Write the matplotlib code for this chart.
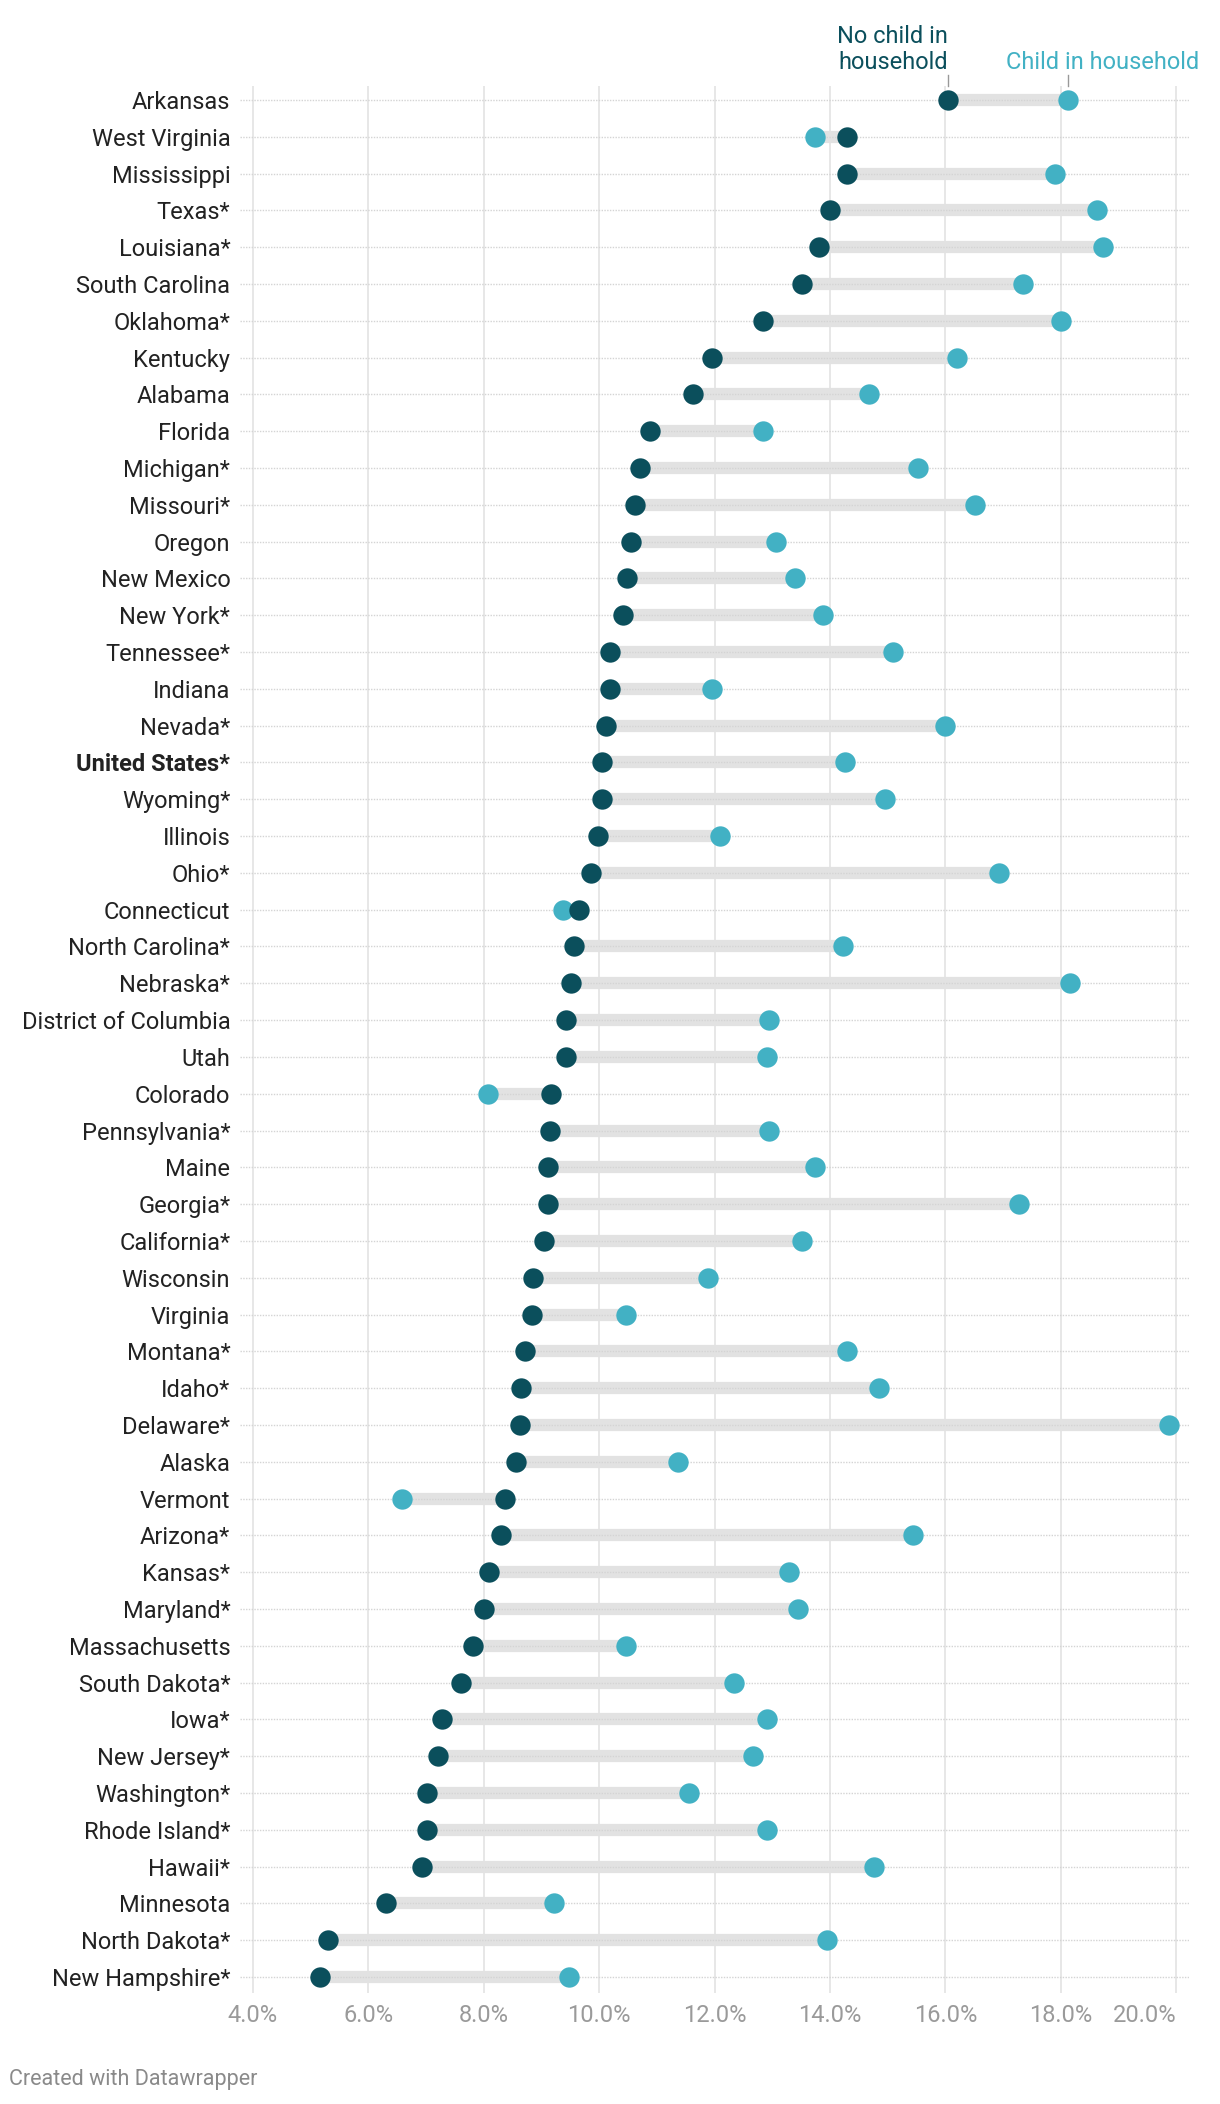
import matplotlib
matplotlib.use("Agg")
import matplotlib.pyplot as plt

plt.rcParams['font.family'] = ['Roboto', 'DejaVu Sans']

states = ["Arkansas", "West Virginia", "Mississippi", "Texas*", "Louisiana*",
          "South Carolina", "Oklahoma*", "Kentucky", "Alabama", "Florida",
          "Michigan*", "Missouri*", "Oregon", "New Mexico", "New York*",
          "Tennessee*", "Indiana", "Nevada*", "United States*", "Wyoming*",
          "Illinois", "Ohio*", "Connecticut", "North Carolina*", "Nebraska*",
          "District of Columbia", "Utah", "Colorado", "Pennsylvania*", "Maine",
          "Georgia*", "California*", "Wisconsin", "Virginia", "Montana*",
          "Idaho*", "Delaware*", "Alaska", "Vermont", "Arizona*",
          "Kansas*", "Maryland*", "Massachusetts", "South Dakota*", "Iowa*",
          "New Jersey*", "Washington*", "Rhode Island*", "Hawaii*", "Minnesota",
          "North Dakota*", "New Hampshire*"]

# share of households, percent
no_child = [16.05, 14.30, 14.30, 14.00, 13.81, 13.51, 12.84, 11.95, 11.63, 10.88,
            10.70, 10.63, 10.56, 10.49, 10.42, 10.19, 10.19, 10.12, 10.05, 10.05,
            9.98, 9.86, 9.65, 9.56, 9.51, 9.42, 9.42, 9.16, 9.14, 9.12,
            9.12, 9.05, 8.86, 8.84, 8.72, 8.65, 8.63, 8.56, 8.37, 8.30,
            8.09, 8.00, 7.81, 7.60, 7.28, 7.21, 7.02, 7.02, 6.93, 6.30,
            5.30, 5.16]
child = [18.12, 13.74, 17.91, 18.63, 18.74, 17.35, 18.00, 16.21, 14.67, 12.84,
         15.53, 16.51, 13.07, 13.40, 13.88, 15.09, 11.95, 16.00, 14.26, 14.95,
         12.09, 16.93, 9.37, 14.23, 18.16, 12.95, 12.91, 8.07, 12.95, 13.74,
         17.28, 13.51, 11.88, 10.47, 14.30, 14.86, 19.88, 11.37, 6.58, 15.44,
         13.30, 13.44, 10.47, 12.33, 12.91, 12.67, 11.56, 12.91, 14.77, 9.21,
         13.95, 9.47]

xticks = [4, 6, 8, 10, 12, 14, 16, 18, 20]

DARK = "#0b4f5c"
LIGHT = "#42b1c4"
W, H = 1220, 2104

fig = plt.figure(figsize=(W / 100, H / 100), dpi=100)
left, right, top, bottom = 240, 1189, 86, 1993
ax = fig.add_axes([left / W, 1 - bottom / H, (right - left) / W, (bottom - top) / H])

rows = list(range(len(states)))

ax.hlines(rows, no_child, child, color="#e2e2e2", lw=8.8, zorder=1)
# dotted row guides
for y in rows:
    ax.axhline(y, color="#d4d4d4", lw=1, ls=(0, (1, 1)), zorder=2)
ax.scatter(child, rows, s=215, color=LIGHT, zorder=3, linewidths=0)
ax.scatter(no_child, rows, s=215, color=DARK, zorder=4, linewidths=0)

# pixel mapping: 4% -> 253px, 20% -> 1176px
ppx = (1176 - 253) / 16
ax.set_xlim(4 - (253 - left) / ppx, 20 + (right - 1176) / ppx)
rpx = (1977 - 100) / 51
ax.set_ylim(51 + (bottom - 1977) / rpx, -(100 - top) / rpx)

ax.set_xticks(xticks)
ax.set_xticklabels([f"{t:.1f}%" for t in xticks], color="#9a9a9a", fontsize=17)
ax.get_xticklabels()[-1].set_horizontalalignment("right")
ax.set_yticks(rows)
ax.set_yticklabels(states, fontsize=17, color="#222222")
for lab in ax.get_yticklabels():
    if lab.get_text() == "United States*":
        lab.set_fontweight("bold")
ax.tick_params(axis="y", length=0, pad=7)
ax.tick_params(axis="x", length=0, pad=8)
ax.grid(axis="x", color="#e3e3e3", lw=1.2, zorder=0)
ax.set_axisbelow(True)
for s in ax.spines.values():
    s.set_visible(False)

# header labels
y_txt = (74 - 100) / rpx
y_tick0, y_tick1 = (75 - 100) / rpx, -(100 - top) / rpx
ax.text(no_child[0], y_txt, "No child in\nhousehold", color=DARK, fontsize=17,
        ha="right", va="bottom", linespacing=1.15, clip_on=False)
ax.plot([no_child[0], no_child[0]], [y_tick0, y_tick1], color="#999999", lw=1, clip_on=False)
ax.text(20 + (1199 - 1176) / ppx, y_txt, "Child in household", color=LIGHT, fontsize=17,
        ha="right", va="bottom", clip_on=False)
ax.plot([child[0], child[0]], [y_tick0, y_tick1], color="#999999", lw=1, clip_on=False)

fig.text(9 / W, 1 - 2079 / H, "Created with Datawrapper", color="#8a8a8a",
         fontsize=15.5, va="center", ha="left")

fig.savefig("out.png", dpi=100, facecolor="white")
